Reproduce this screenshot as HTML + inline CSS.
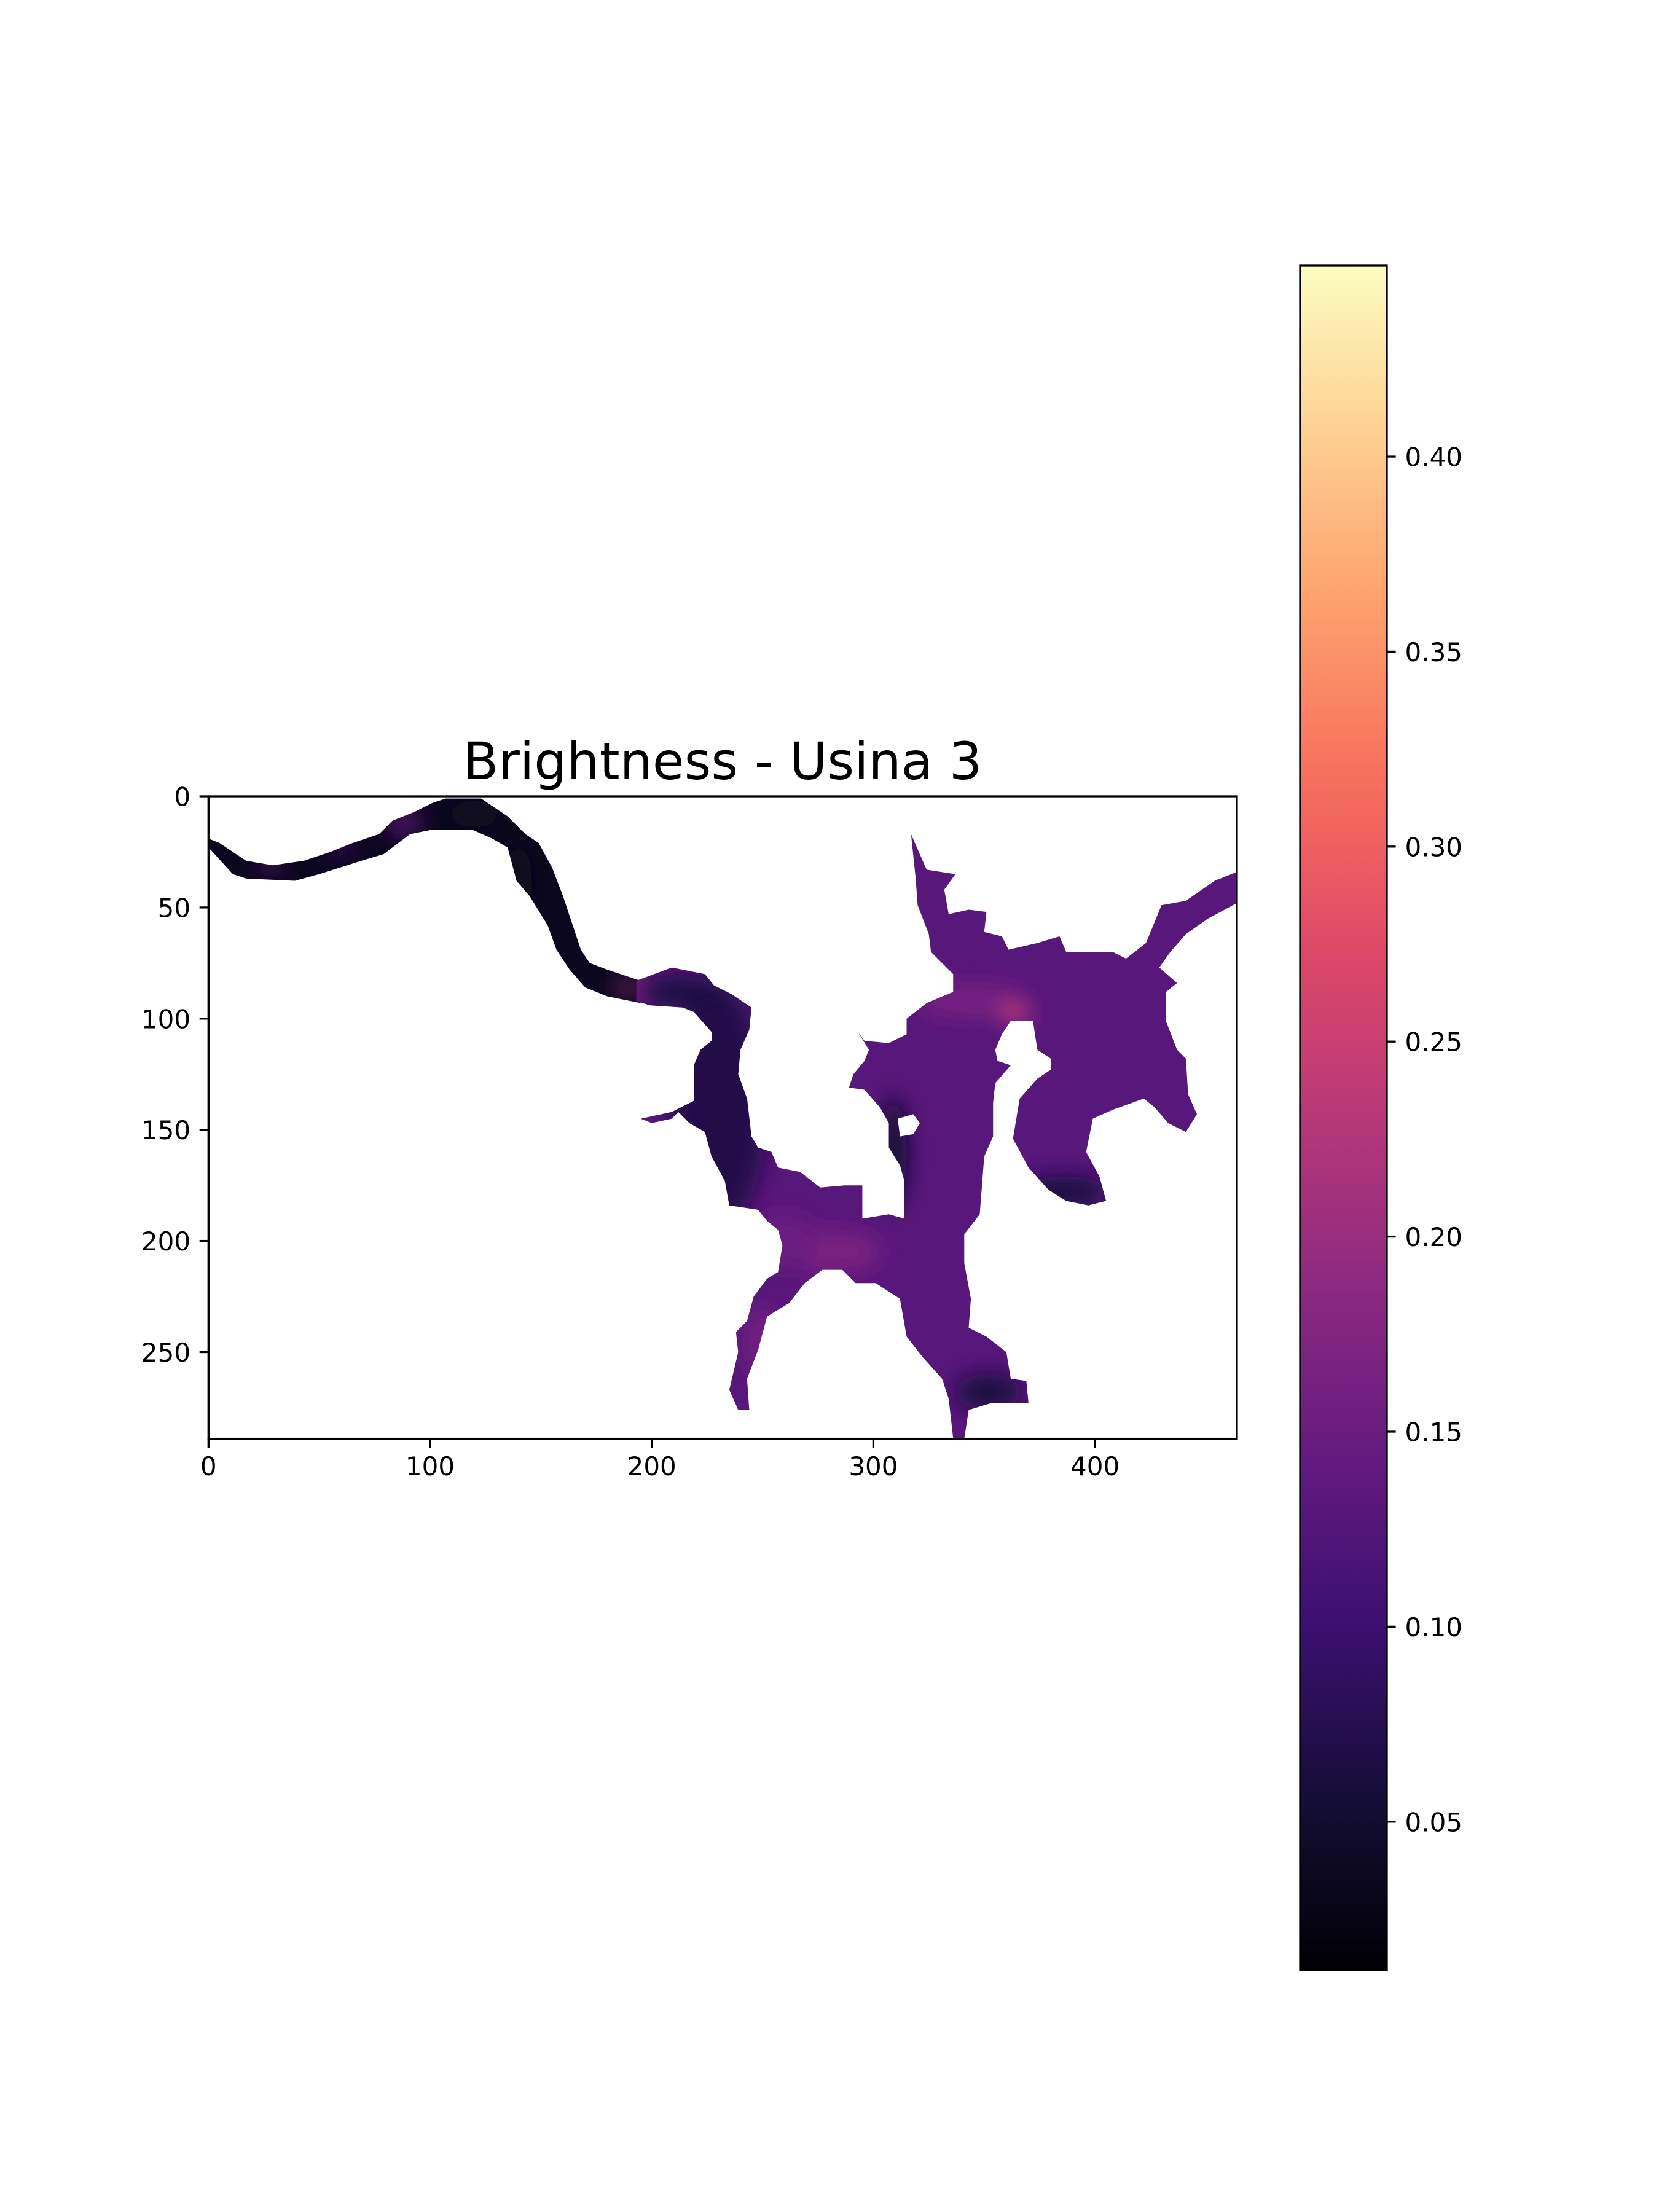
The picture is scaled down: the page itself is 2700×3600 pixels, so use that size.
<!DOCTYPE html>
<html>
<head>
<meta charset="utf-8">
<style>
  html,body{margin:0;padding:0;background:#fff;}
  svg{display:block;}
  text{font-family:"DejaVu Sans","Liberation Sans",sans-serif;fill:#000;}
</style>
</head>
<body>
<svg id="chart" width="2700" height="3600" viewBox="0 0 2700 3600" xmlns="http://www.w3.org/2000/svg">
  <rect x="0" y="0" width="2700" height="3600" fill="#fff"/>
  <text x="1176" y="1268" font-size="84" text-anchor="middle">Brightness - Usina 3</text>
  <g id="plot"></g>
  <g id="axes"></g>
  <g id="cbar"></g>
</svg>
<script>
// ---------- data ----------
const xTicks = [0, 100, 200, 300, 400];
const yTicks = [0, 50, 100, 150, 200, 250];
const cbTicks = [0.05, 0.10, 0.15, 0.20, 0.25, 0.30, 0.35, 0.40];
const cbTickLabels = ["0.05", "0.10", "0.15", "0.20", "0.25", "0.30", "0.35", "0.40"];
const vMin = 0.012;
const vMax = 0.449;
const nCols = 464;
const nRows = 289;

// river (upper-left channel): top edge and bottom edge as [col,row]
const riverTop = [[0,19],[5,21],[17,29],[29,31],[43,29],[55,25],[65,21],[77,17],[83,11],[93,7],[101,3],[107,1],[123,1],[129,5],[135,9],[143,17],[149,21],[155,32],[160,45],[165,60],[168,69],[172,75],[180,78],[186,80],[195,83]];
const riverBottom = [[0,23],[11,35],[17,37],[39,38],[50,35],[69,29],[79,26],[91,17],[101,15],[119,15],[128,19],[135,23],[139,38],[145,45],[153,58],[157,69],[163,78],[170,86],[180,90],[195,93]];
const riverValue = 0.035;

// main reservoir outline [col,row]
const lakeOutline = [[193,83],[209,77],[224,80],[228,85],[236,89],[245,95],[244,105],[240,114],[239,125],[243,136],[245,153],[248,158],[254,160],[257,167],[267,169],[276,176],[287,175],[295,175],[295,190],[307,188],[314,190],[314,173],[312,166],[307,158],[307,147],[303,140],[296,132],[289,131],[291,125],[296,119],[298,114],[293,106],[296,110],[307,111],[315,107],[315,100],[324,93],[336,88],[336,80],[326,70],[325,62],[320,49],[319,36],[317,17],[324,33],[337,35],[332,42],[334,53],[343,51],[351,52],[350,61],[358,63],[361,69],[374,66],[384,63],[387,70],[408,70],[414,73],[423,66],[430,49],[441,47],[454,38],[464,34],[464,48],[451,55],[441,62],[434,70],[429,77],[437,84],[432,88],[432,101],[437,114],[441,118],[442,134],[446,143],[441,151],[433,147],[427,140],[422,136],[408,141],[399,145],[396,160],[402,171],[405,182],[397,184],[387,182],[379,177],[370,167],[363,154],[366,136],[374,127],[380,123],[380,118],[374,114],[372,101],[362,101],[358,107],[355,114],[356,119],[362,121],[355,129],[354,138],[354,153],[350,162],[348,188],[341,197],[341,210],[344,226],[343,239],[351,243],[360,250],[362,262],[369,263],[370,273],[360,273],[353,273],[343,276],[341,289],[336,289],[334,271],[331,262],[322,252],[315,243],[312,226],[301,219],[292,219],[286,213],[277,213],[269,219],[262,228],[252,234],[248,249],[243,262],[244,276],[239,276],[235,267],[239,250],[238,241],[243,236],[246,225],[252,217],[257,214],[259,202],[257,195],[252,191],[248,186],[235,184],[233,173],[227,162],[224,151],[217,147],[212,142],[209,145],[200,147],[195,145],[209,142],[219,137],[219,121],[222,114],[227,110],[227,106],[219,97],[214,95],[199,94],[193,92]];
const lakeValue = 0.13;
const holeOutline = [[311,145],[318,143],[321,147],[318,152],[312,153]];

// brightness patches: centre col,row, radii, value
const patchCol = [230, 214, 282, 345, 364, 386, 309, 352, 88, 28, 60, 188, 120, 140, 250, 260];
const patchRow = [140, 88, 205, 92, 98, 178, 160, 268, 12, 31, 23, 86, 8, 40, 245, 200];
const patchRx = [22, 20, 22, 25, 6, 20, 6, 15, 8, 5, 6, 5, 12, 6, 8, 15];
const patchRy = [55, 7, 9, 7, 4, 7, 25, 8, 5, 3, 3, 3, 6, 20, 15, 12];
const patchValue = [0.07, 0.06, 0.17, 0.165, 0.26, 0.06, 0.05, 0.06, 0.14, 0.15, 0.12, 0.2, 0.04, 0.035, 0.16, 0.15];

// ---------- scales ----------
const X0 = 339.3, XS = 3.607, Y0 = 1296, YS = 3.618;
function xScale(c){ return X0 + c * XS; }
function yScale(r){ return Y0 + r * YS; }
const CB_TOP = 432, CB_BOT = 3206, CB_L = 2116, CB_R = 2257;
function cbScale(v){ return CB_BOT - (v - vMin) / (vMax - vMin) * (CB_BOT - CB_TOP); }

const magma = ["#000004","#140e36","#3b0f70","#641a80","#8c2981","#b73779","#de4968","#f7705c","#fe9f6d","#fecf92","#fcfdbf"];
function hex2rgb(h){ return [parseInt(h.substr(1,2),16),parseInt(h.substr(3,2),16),parseInt(h.substr(5,2),16)]; }
function cmap(v){
  let t = (v - vMin) / (vMax - vMin); t = Math.max(0, Math.min(1, t));
  const p = t * 10, i = Math.min(9, Math.floor(p)), f = p - i;
  const a = hex2rgb(magma[i]), b = hex2rgb(magma[i+1]);
  return "rgb(" + a.map((x,k)=>Math.round(x + (b[k]-x)*f)).join(",") + ")";
}

const NS = "http://www.w3.org/2000/svg";
function mk(tag, attrs, parent){
  const el = document.createElementNS(NS, tag);
  for (const k in attrs) el.setAttribute(k, attrs[k]);
  parent.appendChild(el);
  return el;
}
function pts(arr){ return arr.map(p => xScale(p[0]).toFixed(1) + "," + yScale(p[1]).toFixed(1)).join(" "); }

const svg = document.getElementById("chart");
const plot = document.getElementById("plot");
const axes = document.getElementById("axes");
const cbar = document.getElementById("cbar");

// defs
const defs = mk("defs", {}, svg);
const clip = mk("clipPath", {id:"waterClip"}, defs);
mk("polygon", {points: pts(riverTop.concat(riverBottom.slice().reverse()))}, clip);
mk("polygon", {points: pts(lakeOutline)}, clip);
const blur = mk("filter", {id:"soft", filterUnits:"userSpaceOnUse", x:"0", y:"0", width:"2700", height:"3600"}, defs);
mk("feGaussianBlur", {stdDeviation:"18"}, blur);
const grad = mk("linearGradient", {id:"magmaGrad", x1:"0", y1:"1", x2:"0", y2:"0"}, defs);
for (let i = 0; i <= 40; i++) {
  const v = vMin + (vMax - vMin) * i / 40;
  mk("stop", {offset: (i/40).toFixed(3), "stop-color": cmap(v)}, grad);
}

// water body
const river = mk("polygon", {points: pts(riverTop.concat(riverBottom.slice().reverse())), fill: cmap(riverValue)}, plot);


const lake = mk("polygon", {points: pts(lakeOutline), fill: cmap(lakeValue)}, plot);



const pg = mk("g", {"clip-path":"url(#waterClip)"}, plot);


const pgIn = mk("g", {filter:"url(#soft)"}, pg);
for (let i = 0; i < patchCol.length; i++) {
  const e = mk("ellipse", {cx: xScale(patchCol[i]), cy: yScale(patchRow[i]), rx: patchRx[i]*XS, ry: patchRy[i]*YS, fill: cmap(patchValue[i])}, pgIn);
  
  
}
const hole = mk("polygon", {points: pts(holeOutline), fill:"#fff"}, plot);



// axes frame
const frame = mk("rect", {x: xScale(0), y: yScale(0), width: xScale(nCols)-xScale(0), height: yScale(nRows)-yScale(0), fill:"none", stroke:"#000", "stroke-width":"3.3"}, axes);


xTicks.forEach(t => {
  const x = xScale(t), yb = yScale(nRows);
  const l = mk("line", {x1:x, y1:yb, x2:x, y2:yb+14.6, stroke:"#000", "stroke-width":"3.3"}, axes);
  
  
  const tx = mk("text", {x:x, y:yb+59.5, "font-size":"42", "text-anchor":"middle"}, axes);
  tx.textContent = String(t);
  
  
});
yTicks.forEach(t => {
  const y = yScale(t), xl = xScale(0);
  const l = mk("line", {x1:xl-14.6, y1:y, x2:xl, y2:y, stroke:"#000", "stroke-width":"3.3"}, axes);
  
  
  const tx = mk("text", {x:xl-29.2, y:y+15.5, "font-size":"42", "text-anchor":"end"}, axes);
  tx.textContent = String(t);
  
  
});

// colorbar
const cbRect = mk("rect", {x:CB_L, y:CB_TOP, width:CB_R-CB_L, height:CB_BOT-CB_TOP, fill:"url(#magmaGrad)", stroke:"#000", "stroke-width":"3.3"}, cbar);


cbTicks.forEach((t, i) => {
  const y = cbScale(t);
  const l = mk("line", {x1:CB_R, y1:y, x2:CB_R+14.6, y2:y, stroke:"#000", "stroke-width":"3.3"}, cbar);
  
  
  const tx = mk("text", {x:CB_R+29.5, y:y+15.5, "font-size":"42"}, cbar);
  tx.textContent = cbTickLabels[i];
  
  
});
</script>
</body>
</html>
